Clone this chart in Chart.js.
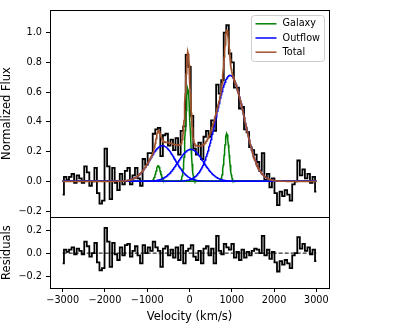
<!DOCTYPE html>
<html>
<head>
<meta charset="utf-8">
<script src="https://cdn.jsdelivr.net/npm/chart.js@4.4.0/dist/chart.umd.min.js"></script>
<style>
  html, body { margin: 0; padding: 0; background: #fff; }
  #wrap { position: relative; width: 419px; height: 328px; }
</style>
</head>
<body>
<div id="wrap"><canvas id="specChart" width="419" height="328"></canvas></div>
<script>
// spectral channels, km/s
const velStart = -3000;
const velStep = 60;

// observed normalized flux, one value per channel
const flux = [
  -0.09, 0.03, 0.01, 0.03, 0.05, -0.01, 0.04, 0.02, -0.01, 0.10,
  0.06, -0.03, 0.00, 0.09, -0.08, -0.15, -0.13, 0.22, 0.10, -0.12,
  0.09, -0.01, -0.06, 0.05, -0.02, 0.07, 0.09, -0.02, 0.04, 0.09,
  0.02, -0.03, 0.15, 0.11, 0.19, 0.19, 0.32, 0.35, 0.36, 0.17,
  0.31, 0.32, 0.24, 0.28, 0.21, 0.29, 0.18, 0.34, 0.37, 0.85,
  0.77, 0.44, 0.22, 0.18, 0.26, 0.15, 0.30, 0.34, 0.30, 0.41,
  0.34, 0.65, 0.59, 0.68, 1.00, 1.05, 0.86, 0.80, 0.63, 0.63,
  0.49, 0.50, 0.35, 0.33, 0.23, 0.21, 0.18, 0.13, 0.07, 0.19,
  0.01, 0.05, -0.04, 0.02, -0.08, -0.16, -0.07, -0.10, -0.06, -0.09,
  -0.13, -0.02, 0.00, 0.14, 0.04, 0.08, 0.02, 0.05, -0.01, 0.03,
  -0.07
];

// residuals (data - total fit), one value per channel
const residuals = [
  -0.09, 0.03, 0.01, 0.03, 0.05, -0.01, 0.04, 0.02, -0.01, 0.10,
  0.06, -0.03, 0.00, 0.09, -0.08, -0.15, -0.13, 0.22, 0.10, -0.12,
  0.09, -0.01, -0.06, 0.05, -0.02, 0.07, 0.08, -0.03, 0.02, 0.06,
  -0.02, -0.09, 0.07, 0.00, 0.05, 0.02, 0.10, 0.05, 0.02, -0.12,
  0.04, 0.06, -0.02, 0.03, -0.04, 0.05, -0.06, 0.07, -0.09, 0.02,
  0.04, 0.07, -0.03, -0.06, 0.02, -0.09, 0.04, 0.06, -0.02, 0.04,
  -0.09, 0.15, 0.02, -0.01, 0.08, 0.05, 0.03, 0.08, -0.04, 0.01,
  -0.06, 0.03, -0.04, 0.01, -0.02, 0.02, 0.04, 0.03, 0.00, 0.15,
  -0.02, 0.03, -0.05, 0.01, -0.08, -0.16, -0.07, -0.10, -0.06, -0.09,
  -0.13, -0.02, 0.00, 0.14, 0.04, 0.08, 0.02, 0.05, -0.01, 0.03,
  -0.07
];

// gaussian fit components: centre (km/s), peak, sigma (km/s)
const galaxyCenters = [-740, -40, 880];
const galaxyPeaks = [0.105, 0.62, 0.32];
const galaxySigmas = [55, 55, 55];
const outflowCenters = [-640, 30, 960];
const outflowPeaks = [0.24, 0.215, 0.713];
const outflowSigmas = [300, 300, 330];

const velTicks = [-3000, -2000, -1000, 0, 1000, 2000, 3000];
const fluxTicks = [-0.2, 0.0, 0.2, 0.4, 0.6, 0.8, 1.0];
const residTicks = [-0.2, 0.0, 0.2];

const channels = flux.map((_, i) => velStart + i * velStep);
const modelVel = [];
for (let v = channels[0]; v <= channels[channels.length - 1]; v += 10) modelVel.push(v);

function gauss(v, c, a, s) {
  return a * Math.exp(-0.5 * ((v - c) / s) ** 2);
}

const fmt = (v, d) => v.toFixed(d).replace('-', '\u2212');

Chart.defaults.font.family = '"DejaVu Sans", sans-serif';
Chart.defaults.color = '#000';

function compDataset(label, color, c, a, s) {
  return {
    label: label,
    legend: true,
    data: modelVel.map(v => ({ x: v, y: gauss(v, c, a, s) })),
    borderColor: color,
    borderWidth: 1.5,
    pointRadius: 0,
    yAxisID: 'y',
    order: label === 'Galaxy' ? 3 : 2
  };
}

const datasets = [];
datasets.push({
  label: 'Data',
  data: channels.map((v, i) => ({ x: v, y: flux[i] })),
  stepped: 'middle',
  borderColor: '#000',
  borderWidth: 1.8,
  pointRadius: 0,
  yAxisID: 'y',
  order: 5
});
galaxyCenters.forEach((c, i) => datasets.push(compDataset('Galaxy', '#008000', c, galaxyPeaks[i], galaxySigmas[i])));
outflowCenters.forEach((c, i) => datasets.push(compDataset('Outflow', '#0000ff', c, outflowPeaks[i], outflowSigmas[i])));
datasets.push({
  label: 'Total',
  legend: true,
  data: modelVel.map(v => {
    let t = 0;
    galaxyCenters.forEach((c, i) => { t += gauss(v, c, galaxyPeaks[i], galaxySigmas[i]); });
    outflowCenters.forEach((c, i) => { t += gauss(v, c, outflowPeaks[i], outflowSigmas[i]); });
    return { x: v, y: t };
  }),
  borderColor: '#a0522d',
  borderWidth: 1.7,
  pointRadius: 0,
  yAxisID: 'y',
  order: 1
});
datasets.push({
  label: 'Residuals',
  data: channels.map((v, i) => ({ x: v, y: residuals[i] })),
  stepped: 'middle',
  borderColor: '#000',
  borderWidth: 1.8,
  pointRadius: 0,
  yAxisID: 'yRes',
  order: 5
});
datasets.push({
  label: 'zero',
  data: [{ x: channels[0], y: 0 }, { x: channels[channels.length - 1], y: 0 }],
  borderColor: '#000',
  borderWidth: 1,
  borderDash: [4, 2],
  pointRadius: 0,
  yAxisID: 'yRes',
  order: 4
});

// black box around each panel
const panelFrame = {
  id: 'panelFrame',
  afterDatasetsDraw(chart) {
    const { ctx, chartArea } = chart;
    ctx.save();
    ctx.strokeStyle = '#000';
    ctx.lineWidth = 1;
    ['y', 'yRes'].forEach(id => {
      const s = chart.scales[id];
      ctx.strokeRect(Math.round(chartArea.left) + 0.5, Math.round(s.top) + 0.5,
        Math.round(chartArea.right - chartArea.left), Math.round(s.bottom - s.top));
    });
    ctx.restore();
  }
};

// legend box in the upper right of the top panel
const insetLegend = {
  id: 'insetLegend',
  afterDraw(chart) {
    const { ctx, chartArea } = chart;
    const entries = [];
    chart.data.datasets.forEach(ds => {
      if (ds.legend && !entries.find(e => e.label === ds.label)) entries.push({ label: ds.label, color: ds.borderColor });
    });
    ctx.save();
    ctx.font = '9.7px "DejaVu Sans"';
    const maxW = Math.max(...entries.map(e => ctx.measureText(e.label).width));
    const w = 4 + 21 + 6 + maxW + 4.5;
    const h = 46;
    const x0 = Math.round(chartArea.right - 4.7 - w) + 0.5;
    const y0 = Math.round(chart.scales.y.top + 5) + 0.5;
    ctx.beginPath();
    ctx.roundRect(x0, y0, w, h, 3);
    ctx.fillStyle = 'rgba(255,255,255,0.8)';
    ctx.fill();
    ctx.strokeStyle = '#cccccc';
    ctx.lineWidth = 1;
    ctx.stroke();
    entries.forEach((e, i) => {
      const yy = y0 + 8.3 + i * 14.2;
      ctx.beginPath();
      ctx.moveTo(x0 + 4, yy);
      ctx.lineTo(x0 + 25, yy);
      ctx.strokeStyle = e.color;
      ctx.lineWidth = 1.5;
      ctx.stroke();
      ctx.fillStyle = '#000';
      ctx.textAlign = 'left';
      ctx.textBaseline = 'middle';
      ctx.fillText(e.label, x0 + 31, yy);
    });
    ctx.restore();
  }
};

const tickGrid = { drawOnChartArea: false, drawTicks: true, tickLength: 4, color: '#000', lineWidth: 1 };

new Chart(document.getElementById('specChart').getContext('2d'), {
  type: 'line',
  data: { datasets: datasets },
  options: {
    responsive: false,
    animation: false,
    devicePixelRatio: 1,
    layout: { padding: { top: 9, right: 90, left: 0, bottom: 0 } },
    plugins: { legend: { display: false }, tooltip: { enabled: false } },
    scales: {
      x: {
        type: 'linear',
        position: 'bottom',
        min: -3300,
        max: 3300,
        afterBuildTicks: s => { s.ticks = velTicks.map(v => ({ value: v })); },
        afterFit: s => { s.height = 40; },
        ticks: { autoSkip: false, maxRotation: 0, padding: 3, font: { size: 9.7 }, callback: v => fmt(v, 0) },
        grid: tickGrid,
        border: { display: false },
        title: { display: true, text: 'Velocity (km/s)', font: { size: 11.5 }, padding: { top: 0, bottom: 4 } }
      },
      // listed before 'y' so that Chart.js stacks it underneath
      yRes: {
        type: 'linear',
        position: 'left',
        stack: 'panels',
        stackWeight: 71,
        min: -0.304,
        max: 0.313,
        afterBuildTicks: s => { s.ticks = residTicks.map(v => ({ value: v })); },
        afterFit: s => { s.width = 50; },
        ticks: { autoSkip: false, padding: 4, font: { size: 9.7 }, callback: v => fmt(v, 1) },
        grid: tickGrid,
        border: { display: false },
        title: { display: true, text: 'Residuals', font: { size: 11.5 }, padding: { top: 0, bottom: 0 } }
      },
      y: {
        type: 'linear',
        position: 'left',
        stack: 'panels',
        stackWeight: 208,
        min: -0.2416,
        max: 1.154,
        afterBuildTicks: s => { s.ticks = fluxTicks.map(v => ({ value: v })); },
        afterFit: s => { s.width = 50; },
        ticks: { autoSkip: false, padding: 4, font: { size: 9.7 }, callback: v => fmt(v, 1) },
        grid: tickGrid,
        border: { display: false },
        title: { display: true, text: 'Normalized Flux', font: { size: 11.5 }, padding: { top: 0, bottom: 0 } }
      }
    }
  },
  plugins: [panelFrame, insetLegend]
});
</script>
</body>
</html>
